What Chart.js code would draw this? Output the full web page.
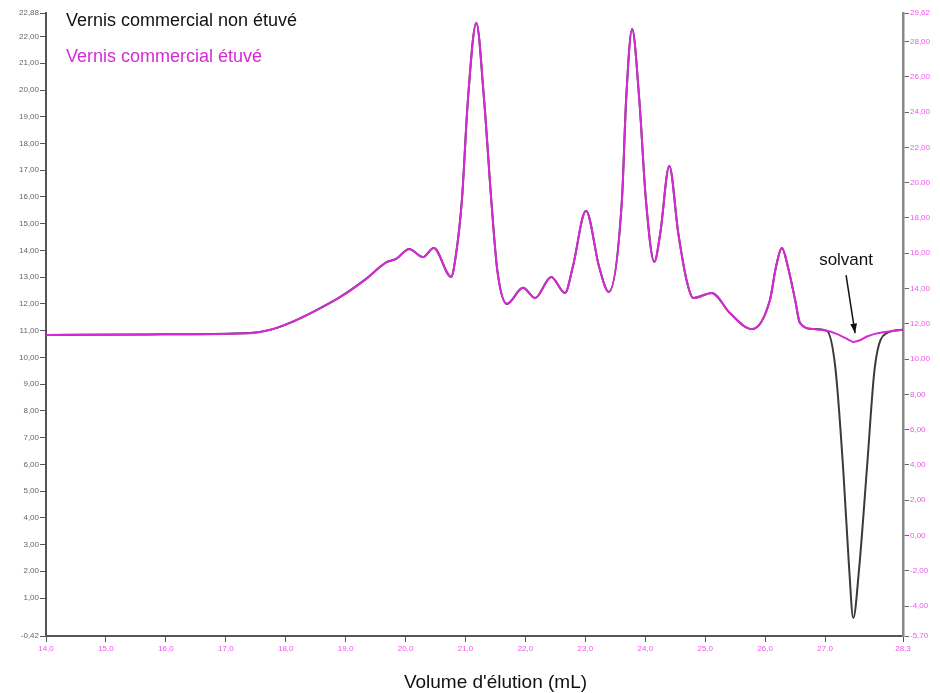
<!DOCTYPE html>
<html>
<head>
<meta charset="utf-8">
<script src="https://cdn.jsdelivr.net/npm/chart.js@4/dist/chart.umd.min.js"></script>
<style>
  body { margin: 0; background: #fff; }
  #box { width: 940px; height: 693px; }
</style>
</head>
<body>
<div id="box"><canvas id="chromato" width="940" height="693"></canvas></div>
<script>
// Volumes d'élution (mL) communs aux deux courbes
const volumes = [14.00, 15.70, 17.40, 17.74, 18.07, 18.49, 18.91, 19.32, 19.69, 19.84,
  20.06, 20.29, 20.47, 20.76, 20.84, 20.94, 21.04, 21.18, 21.31, 21.43,
  21.53, 21.69, 21.96, 22.16, 22.43, 22.66, 22.79, 23.01, 23.23, 23.39,
  23.61, 23.68, 23.78, 23.90, 24.01, 24.15, 24.25, 24.40, 24.55, 24.70,
  24.80, 25.11, 25.41, 25.78, 26.08, 26.18, 26.28, 26.38, 26.50, 26.58,
  26.80, 27.03, 27.17, 27.30, 27.40, 27.47, 27.57, 27.70, 27.83, 28.03, 28.30];

// Vernis non étuvé (axe de gauche)
const nonEtuve = [10.84, 10.86, 10.91, 11.03, 11.29, 11.74, 12.26, 12.90, 13.57, 13.68,
  14.05, 13.75, 14.09, 13.01, 13.83, 15.89, 19.63, 22.51, 19.63, 15.89,
  13.27, 12.00, 12.60, 12.22, 13.01, 12.41, 13.38, 15.48, 13.38, 12.45,
  15.89, 19.63, 22.28, 19.63, 15.89, 13.57, 14.65, 17.16, 14.65, 12.78,
  12.22, 12.41, 11.66, 11.06, 12.15, 13.38, 14.09, 13.38, 12.15, 11.29,
  11.06, 10.99, 9.64, 5.90, 2.16, 0.25, 2.16, 5.90, 9.64, 10.91, 11.03];

// Vernis étuvé (axe de droite)
const etuve = [11.37, 11.40, 11.47, 11.66, 12.05, 12.73, 13.52, 14.49, 15.51, 15.67,
  16.23, 15.78, 16.30, 14.66, 15.90, 19.02, 24.69, 29.06, 24.69, 19.02,
  15.05, 13.13, 14.04, 13.46, 14.66, 13.75, 15.22, 18.40, 15.22, 13.81,
  19.02, 24.69, 28.71, 24.69, 19.02, 15.51, 17.14, 20.95, 17.14, 14.31,
  13.46, 13.75, 12.61, 11.70, 13.35, 15.22, 16.30, 15.22, 13.35, 12.05,
  11.70, 11.60, 11.46, 11.26, 11.08, 10.97, 11.05, 11.28, 11.43, 11.55, 11.66];

const leftTicks = [-0.42, 1, 2, 3, 4, 5, 6, 7, 8, 9, 10, 11, 12, 13, 14, 15, 16, 17, 18, 19, 20, 21, 22, 22.88];
const rightTicks = [-5.70, -4, -2, 0, 2, 4, 6, 8, 10, 12, 14, 16, 18, 20, 22, 24, 26, 28, 29.62];
const volumeTicks = [14, 15, 16, 17, 18, 19, 20, 21, 22, 23, 24, 25, 26, 27, 28.3];

// flèche "solvant" et titre de l'axe x (en unités du graphique)
const solvant = { texte: 'solvant', x: 27.35, y: 13.64, de: [27.35, 13.08], vers: [27.50, 10.91] };
const titreX = { texte: "Volume d'élution (mL)", x: 21.5 };

const noir = '#3a3a3a';
const rose = '#d62ad6';
const roseTicks = '#ee55ee';
const police = '"Liberation Sans", Arial, sans-serif';
const virgule = (v, d) => v.toFixed(d).replace('.', ',');

const textes = {
  id: 'textes',
  afterDraw(chart) {
    const ctx = chart.ctx, a = chart.chartArea;
    const sx = chart.scales.x, sy = chart.scales.y;
    ctx.save();
    // légende
    ctx.font = '18px ' + police;
    ctx.textBaseline = 'middle';
    ctx.fillStyle = '#111';
    ctx.fillText(chart.data.datasets[0].label, a.left + 20, a.top + 8);
    ctx.fillStyle = rose;
    ctx.fillText(chart.data.datasets[1].label, a.left + 20, a.top + 44);
    // titre de l'axe x
    ctx.fillStyle = '#111';
    ctx.textAlign = 'center';
    ctx.font = '19px ' + police;
    ctx.fillText(titreX.texte, sx.getPixelForValue(titreX.x), a.bottom + 47);
    // annotation solvant
    ctx.font = '17px ' + police;
    ctx.fillText(solvant.texte, sx.getPixelForValue(solvant.x), sy.getPixelForValue(solvant.y));
    const x0 = sx.getPixelForValue(solvant.de[0]), y0 = sy.getPixelForValue(solvant.de[1]);
    const x1 = sx.getPixelForValue(solvant.vers[0]), y1 = sy.getPixelForValue(solvant.vers[1]);
    ctx.strokeStyle = '#111';
    ctx.lineWidth = 1.5;
    ctx.beginPath(); ctx.moveTo(x0, y0); ctx.lineTo(x1, y1); ctx.stroke();
    const ang = Math.atan2(y1 - y0, x1 - x0);
    ctx.beginPath();
    ctx.moveTo(x1, y1);
    ctx.lineTo(x1 - 10 * Math.cos(ang - 0.35), y1 - 10 * Math.sin(ang - 0.35));
    ctx.lineTo(x1 - 10 * Math.cos(ang + 0.35), y1 - 10 * Math.sin(ang + 0.35));
    ctx.closePath(); ctx.fill();
    ctx.restore();
  }
};

new Chart(document.querySelector('#chromato'), {
  type: 'line',
  data: {
    datasets: [
      {
        label: 'Vernis commercial non étuvé',
        data: volumes.map((v, i) => ({ x: v, y: nonEtuve[i] })),
        borderColor: noir, borderWidth: 2, pointRadius: 0,
        cubicInterpolationMode: 'monotone', yAxisID: 'y', order: 2
      },
      {
        label: 'Vernis commercial étuvé',
        data: volumes.map((v, i) => ({ x: v, y: etuve[i] })),
        borderColor: rose, borderWidth: 2, pointRadius: 0,
        cubicInterpolationMode: 'monotone', yAxisID: 'y1', order: 1
      }
    ]
  },
  options: {
    responsive: false,
    animation: false,
    layout: { padding: { top: 13, left: 0, right: 0, bottom: 0 } },
    plugins: { legend: { display: false }, tooltip: { enabled: false } },
    scales: {
      x: {
        type: 'linear', min: 14, max: 28.3,
        afterBuildTicks: s => { s.ticks = volumeTicks.map(v => ({ value: v })); },
        afterFit: s => { s.height = 57; },
        grid: { drawOnChartArea: false, color: '#555', tickLength: 6 },
        border: { color: '#555', width: 2 },
        ticks: { color: roseTicks, font: { size: 8 }, padding: 2, maxRotation: 0,
          callback: v => virgule(v, 1) }
      },
      y: {
        position: 'left', min: -0.42, max: 22.88,
        afterBuildTicks: s => { s.ticks = leftTicks.map(v => ({ value: v })); },
        afterFit: s => { s.width = 46; },
        grid: { drawOnChartArea: false, color: '#555', tickLength: 6 },
        border: { color: '#555', width: 2 },
        ticks: { color: '#666', font: { size: 8 }, padding: 1, autoSkip: false,
          callback: v => virgule(v, 2) }
      },
      y1: {
        position: 'right', min: -5.70, max: 29.62,
        afterBuildTicks: s => { s.ticks = rightTicks.map(v => ({ value: v })); },
        afterFit: s => { s.width = 37; },
        grid: { drawOnChartArea: false, color: '#666', tickLength: 6 },
        border: { color: '#888', width: 2.5 },
        ticks: { color: roseTicks, font: { size: 8 }, padding: 1, autoSkip: false,
          callback: v => virgule(v, 2) }
      }
    }
  },
  plugins: [textes]
});
</script>
</body>
</html>
